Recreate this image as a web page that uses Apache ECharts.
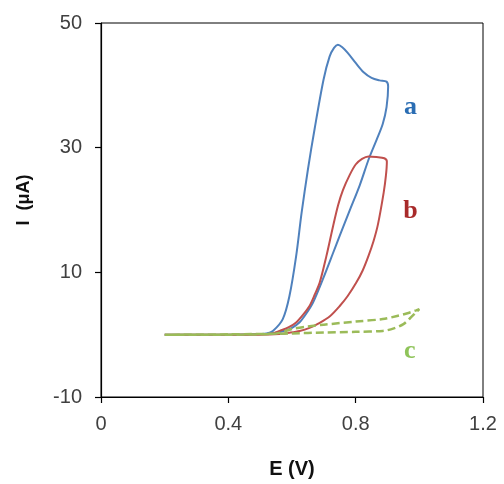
<!DOCTYPE html>
<html>
<head>
<meta charset="utf-8">
<script src="https://cdn.jsdelivr.net/npm/echarts@6/dist/echarts.min.js"></script>
<style>
html,body{margin:0;padding:0;background:#fff;}
#chart{width:504px;height:484px;}
</style>
</head>
<body>
<div id="chart"></div>
<script>
// Curve a (blue) : potential E (V) and current I (µA), forward then reverse scan
var aE = [0.20,0.30,0.40,0.48,0.52,0.54,0.571,0.592,0.613,0.630,0.650,0.671,0.699,0.718,0.732,0.744,0.758,0.775,0.800,0.825,0.850,0.875,0.897,0.902,0.897,0.885,0.866,0.842,0.813,0.781,0.750,0.729,0.697,0.666,0.645,0.624,0.600,0.582,0.55,0.50,0.40,0.20];
var aI = [0,0,0,0.05,0.2,0.6,2.5,6.2,12.6,19.5,26.5,33.0,40.9,44.6,46.0,46.5,46.1,45.2,43.6,42.1,41.2,40.8,40.6,39.8,36.5,33.8,31.3,28.3,24.0,19.9,15.9,13.1,8.9,5.15,3.4,2.0,1.1,0.7,0.3,0.1,0,0];
// Curve b (red)
var bE = [0.20,0.40,0.50,0.54,0.561,0.590,0.613,0.635,0.655,0.672,0.687,0.708,0.729,0.745,0.760,0.781,0.800,0.820,0.840,0.865,0.890,0.898,0.895,0.888,0.870,0.856,0.840,0.822,0.802,0.775,0.750,0.720,0.687,0.655,0.624,0.59,0.56,0.50,0.20];
var bI = [0,0,0.05,0.2,0.6,1.2,1.95,3.2,4.6,6.5,8.35,12.6,17.4,20.8,23.2,25.6,27.3,28.2,28.6,28.5,28.3,27.8,25.5,22.8,17.7,15.0,12.6,10.3,8.35,6.2,4.6,3.0,1.9,1.1,0.6,0.3,0.1,0,0];
// Curve c (green, dashed)
var cE = [0.20,0.40,0.55,0.60,0.65,0.70,0.80,0.885,0.93,0.96,0.99,1.00,0.99,0.97,0.95,0.92,0.885,0.80,0.70,0.60,0.40,0.20];
var cI = [0,0,0.2,0.9,1.3,1.6,2.1,2.5,3.0,3.4,3.9,4.1,3.6,2.6,1.7,1.0,0.6,0.45,0.35,0.2,0.05,0];
// Curve labels
var labelNames = ['a','b','c'];
var labelE = [0.972,0.972,0.970];
var labelI = [36.4,19.8,-2.6];
var xTicks = [0,0.4,0.8,1.2];
var yTicks = [-10,10,30,50];

function pairs(x, y){ var r=[]; for(var i=0;i<x.length;i++) r.push([x[i],y[i]]); return r; }

var lineColors = ['#4f81bd','#c0504d','#9bbb59'];
var labelColors = ['#2a6db3','#a82a2a','#8fc45a'];

function mk(i){
  return {
    symbol:'circle', symbolSize:0.1,
    data:[{coord:[labelE[i], labelI[i]], value:labelNames[i]}],
    itemStyle:{color:'rgba(0,0,0,0)'},
    label:{show:true, position:'inside', formatter:labelNames[i], color:labelColors[i],
      fontFamily:'Liberation Serif', fontWeight:'bold', fontSize:26},
    silent:true
  };
}

var chart = echarts.init(document.getElementById('chart'), null, {renderer:'canvas'});
chart.setOption({
  animation:false,
  backgroundColor:'#fff',
  grid:{left:101, right:21, top:23, bottom:86, show:true, borderColor:'#000', borderWidth:1, backgroundColor:'transparent'},
  xAxis:{
    type:'value', min:xTicks[0], max:xTicks[xTicks.length-1], interval:0.4,
    name:'E (V)', nameLocation:'middle', nameGap:62,
    nameTextStyle:{fontFamily:'Liberation Sans', fontWeight:'bold', fontSize:20, color:'#111'},
    axisLine:{show:true, onZero:false, lineStyle:{color:'#000', width:1.2}},
    axisTick:{show:true, inside:false, length:6, lineStyle:{color:'#000', width:1.2}},
    axisLabel:{margin:17, fontFamily:'Liberation Sans', fontSize:20, color:'#404040',
      formatter:function(v){ return String(Math.round(v*10)/10); }},
    splitLine:{show:false}
  },
  yAxis:{
    type:'value', min:yTicks[0], max:yTicks[yTicks.length-1], interval:20,
    name:'I  (μA)', nameLocation:'middle', nameGap:68, nameRotate:90,
    nameTextStyle:{fontFamily:'Liberation Sans', fontWeight:'bold', fontSize:18, color:'#111', padding:[0,0,0,20]},
    axisLine:{show:true, onZero:false, lineStyle:{color:'#000', width:1.2}},
    axisTick:{show:true, inside:false, length:6, lineStyle:{color:'#000', width:1.2}},
    axisLabel:{margin:19, fontFamily:'Liberation Sans', fontSize:20, color:'#404040'},
    splitLine:{show:false}
  },
  series:[
    {type:'line', data:pairs(aE,aI), showSymbol:false, smooth:0.3, lineStyle:{color:lineColors[0], width:2}, markPoint:mk(0), z:2},
    {type:'line', data:pairs(bE,bI), showSymbol:false, smooth:0.3, lineStyle:{color:lineColors[1], width:2}, markPoint:mk(1), z:3},
    {type:'line', data:pairs(cE,cI), showSymbol:false, smooth:0.3, lineStyle:{color:lineColors[2], width:2.5, type:[8,4]}, markPoint:mk(2), z:4}
  ]
});
</script>
</body>
</html>
